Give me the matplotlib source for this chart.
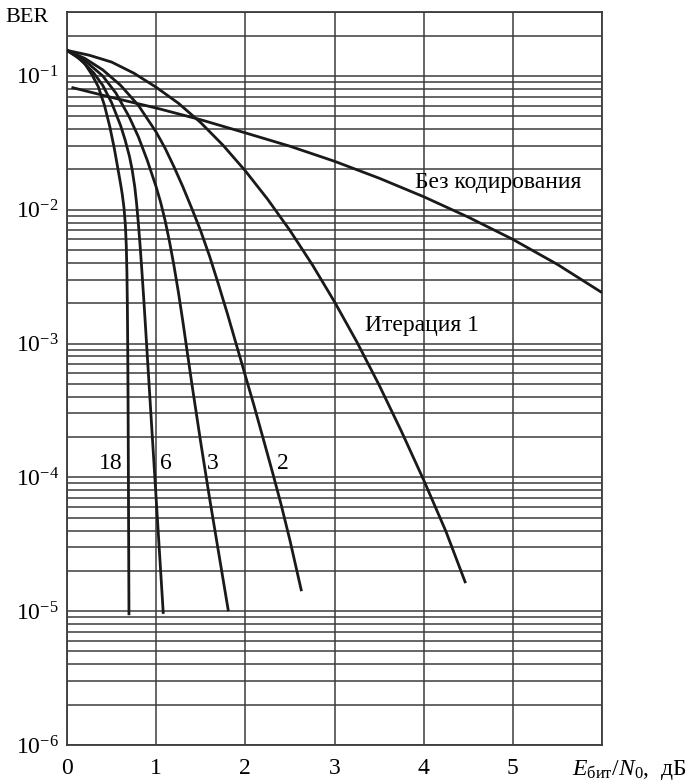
import numpy as np
import matplotlib
matplotlib.use("Agg")
import matplotlib.pyplot as plt
from matplotlib.ticker import LogLocator, FixedLocator, NullFormatter

plt.rcParams['font.family'] = ['Liberation Serif', 'DejaVu Serif']
plt.rcParams['mathtext.fontset'] = 'custom'
plt.rcParams['mathtext.rm'] = 'Liberation Serif'
plt.rcParams['mathtext.it'] = 'Liberation Serif:italic'
plt.rcParams['mathtext.bf'] = 'Liberation Serif:bold'

# ---- data ----
x_uncoded = [0.05, 0.5, 1.0, 1.5, 2.0, 2.5, 3.0, 3.5, 4.0, 4.5, 5.0, 5.5, 6.0]
ber_uncoded = [0.082, 0.069, 0.0575, 0.047, 0.0375, 0.0298, 0.023, 0.0172, 0.0125, 0.0088, 0.0060, 0.0039, 0.0024]

x_it1 = [0.0, 0.25, 0.5, 0.75, 1.0, 1.25, 1.5, 1.75, 2.0, 2.25, 2.5, 2.75, 3.0, 3.25, 3.5, 3.75, 4.0, 4.25, 4.47]
ber_it1 = [0.155, 0.1426, 0.1268, 0.1047, 0.0822, 0.0624, 0.0447, 0.0303, 0.0195, 0.01197, 0.0070, 0.00389,
           0.00205, 0.00103, 0.00049, 0.000221, 0.0000955, 0.0000394, 0.0000162]

x_it2 = [0.0, 0.2, 0.4, 0.6, 0.8, 1.0, 1.1, 1.2, 1.3, 1.4, 1.5, 1.6, 1.7, 1.8, 1.9, 2.0, 2.1, 2.2, 2.3, 2.4, 2.5, 2.63]
ber_it2 = [0.155, 0.135, 0.111, 0.0851, 0.0603, 0.0380, 0.0288, 0.0209, 0.0148, 0.0102, 0.00692, 0.00447,
           0.00275, 0.00166, 0.000977, 0.000575, 0.000339, 0.000195, 0.000112, 0.0000631, 0.0000339, 0.0000141]

x_it3 = [0.0, 0.2, 0.4, 0.55, 0.7, 0.8, 0.9, 1.0, 1.05, 1.1, 1.15, 1.2, 1.25, 1.3, 1.35, 1.4, 1.45, 1.5, 1.55, 1.6, 1.7, 1.81]
ber_it3 = [0.155, 0.130, 0.100, 0.0741, 0.0490, 0.0351, 0.0234, 0.0148, 0.01135, 0.00832, 0.00575, 0.00380,
           0.00240, 0.00145, 0.000851, 0.000501, 0.000302, 0.000182, 0.000112, 0.0000692, 0.0000275, 0.0000100]

x_it6 = [0.0, 0.15, 0.3, 0.4, 0.5, 0.6, 0.65, 0.7, 0.73, 0.76, 0.78, 0.8, 0.82, 0.84, 0.86, 0.88, 0.92, 0.96, 1.0, 1.04, 1.08]
ber_it6 = [0.155, 0.133, 0.105, 0.0851, 0.0631, 0.0427, 0.0335, 0.0251, 0.0200, 0.0148, 0.0112, 0.00794,
           0.00537, 0.00347, 0.00219, 0.00135, 0.000501, 0.000186, 0.0000692, 0.0000257, 0.00000955]

x_it18 = [0.0, 0.1, 0.2, 0.28, 0.35, 0.42, 0.48, 0.53, 0.57, 0.6, 0.62, 0.64, 0.655, 0.665, 0.672, 0.677, 0.681,
          0.685, 0.688, 0.691, 0.695]
ber_it18 = [0.155, 0.141, 0.123, 0.102, 0.0832, 0.0603, 0.0417, 0.0288, 0.0204, 0.0157, 0.0130, 0.0102, 0.00759,
            0.00537, 0.00339, 0.00191, 0.000955, 0.000355, 0.000126, 0.0000398, 0.00000933]

x_ticks = [0, 1, 2, 3, 4, 5, 6]
x_ticklabels = ['0', '1', '2', '3', '4', '5', '']
y_ticks = [1e-6, 1e-5, 1e-4, 1e-3, 1e-2, 1e-1]
y_ticklabels = [r'$10^{-6}$', r'$10^{-5}$', r'$10^{-4}$', r'$10^{-3}$', r'$10^{-2}$', r'$10^{-1}$']

iter_labels = ['18', '6', '3', '2']
iter_label_x = [0.49, 1.11, 1.64, 2.42]
iter_label_y = 1.27e-4

# ---- figure ----
W, H = 689, 784
fig = plt.figure(figsize=(W / 100, H / 100), dpi=100)
L, R, T, B = 67, 602, 12, 745
ax = fig.add_axes([L / W, 1 - B / H, (R - L) / W, (B - T) / H])

lw = 2.0
col = '#1a1a1a'
for xs, ys in [(x_uncoded, ber_uncoded), (x_it1, ber_it1), (x_it2, ber_it2),
               (x_it3, ber_it3), (x_it6, ber_it6), (x_it18, ber_it18)]:
    ax.plot(xs, ys, color=col, lw=lw, solid_capstyle='butt', solid_joinstyle='round', zorder=3)

ax.set_yscale('log')
ax.set_xlim(0, 6)
ax.set_ylim(1e-6, 0.3)

ax.xaxis.set_major_locator(FixedLocator(x_ticks))
ax.set_xticklabels(x_ticklabels)
ax.yaxis.set_major_locator(FixedLocator(y_ticks))
ax.set_yticklabels(y_ticklabels)
ax.yaxis.set_minor_locator(LogLocator(base=10, subs=np.arange(2, 10)))
ax.yaxis.set_minor_formatter(NullFormatter())

gcol = '#3c3c3c'
ax.grid(True, which='major', axis='both', color=gcol, lw=1.1)
ax.grid(True, which='minor', axis='y', color=gcol, lw=1.1)
for s in ax.spines.values():
    s.set_color(gcol)
    s.set_linewidth(1.3)

ax.tick_params(which='both', length=0)
ax.tick_params(axis='x', labelsize=17, pad=9)
ax.tick_params(axis='y', labelsize=17, pad=6)

for lab, xx in zip(iter_labels, iter_label_x):
    ax.text(xx, iter_label_y, lab, fontsize=17, ha='center', va='center', zorder=4)

ax.text(3.34, 1.37e-3, 'Итерация 1', fontsize=17, ha='left', va='center', zorder=4)
ax.text(3.9, 0.0161, 'Без кодирования', fontsize=17, ha='left', va='center', zorder=4)

fig.text(5 / W, 1 - 18 / H, 'BER', fontsize=16, ha='left', va='center')
fig.text(0.997, 1 - 770 / H, r'$E_{\mathrm{бит}}/N_0$,  дБ', fontsize=17, ha='right', va='center')

fig.savefig('out.png', dpi=100)
